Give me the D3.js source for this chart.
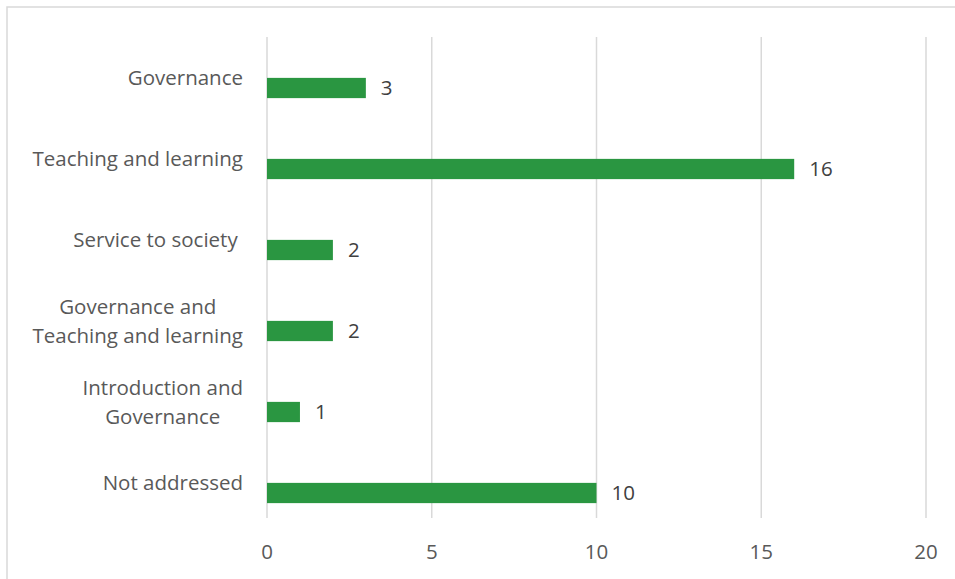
<!DOCTYPE html>
<meta charset="utf-8">
<script src="https://d3js.org/d3.v7.min.js"></script>
<style>
  body { margin: 0; background: #fff; }
  text { font-family: "Open Sans", sans-serif; fill: #595959; }
</style>
<div id="my_dataviz"></div>
<script>

// data
var categories = [
  ["Governance"],
  ["Teaching and learning"],
  ["Service to society "],
  ["Governance and", "Teaching and learning"],
  ["Introduction and", "Governance"],
  ["Not addressed"]
];
var values = [3, 16, 2, 2, 1, 10];
var tickValues = [0, 5, 10, 15, 20];

var width = 955, height = 579;
var fontSize = "20.5px";

var svg = d3.select("#my_dataviz")
  .append("svg")
    .attr("width", width)
    .attr("height", height);

// chart border
svg.append("rect")
  .attr("x", 7).attr("y", 7)
  .attr("width", 960).attr("height", 590)
  .attr("fill", "none")
  .attr("stroke", "#d9d9d9")
  .attr("stroke-width", 1.5);

var x = d3.scaleLinear()
  .domain([0, 20])
  .range([267, 926]);

var y = d3.scaleBand()
  .domain(d3.range(categories.length))
  .range([47.5, 533.5])
  .paddingInner(0.75)
  .paddingOuter(0.375);

// vertical gridlines
svg.append("g")
  .selectAll("line")
  .data(tickValues)
  .join("line")
    .attr("x1", function(d) { return x(d); })
    .attr("x2", function(d) { return x(d); })
    .attr("y1", 37)
    .attr("y2", 518)
    .attr("stroke", "#d9d9d9")
    .attr("stroke-width", 1.5);

// x tick labels
svg.append("g")
  .selectAll("text")
  .data(tickValues)
  .join("text")
    .attr("x", function(d) { return x(d); })
    .attr("y", 552)
    .attr("dy", "0.35em")
    .attr("text-anchor", "middle")
    .style("font-size", fontSize)
    .text(function(d) { return d; });

// bars
svg.append("g")
  .selectAll("rect")
  .data(values)
  .join("rect")
    .attr("x", x(0))
    .attr("y", function(d, i) { return y(i); })
    .attr("width", function(d) { return x(d) - x(0); })
    .attr("height", y.bandwidth())
    .attr("fill", "#2a9641");

// value labels
svg.append("g")
  .selectAll("text")
  .data(values)
  .join("text")
    .attr("x", function(d) { return x(d) + 15; })
    .attr("y", function(d, i) { return y(i) + y.bandwidth() / 2; })
    .attr("dy", "0.35em")
    .style("font-size", fontSize)
    .style("fill", "#404040")
    .text(function(d) { return d; });

// category labels, each block right-aligned at 243, lines centred within the block
var lineH = 29;
var labels = svg.append("g")
  .selectAll("g")
  .data(categories)
  .join("g");

labels.each(function(lines, i) {
  var g = d3.select(this);
  var cy = y(i) + y.bandwidth() / 2 - 10;
  var top = cy - (lines.length - 1) * lineH / 2;
  var texts = g.selectAll("text")
    .data(lines)
    .join("text")
      .attr("y", function(d, j) { return top + j * lineH; })
      .attr("dy", "0.35em")
      .attr("text-anchor", "middle")
      .attr("xml:space", "preserve")
      .style("white-space", "pre")
      .style("font-size", fontSize)
      .text(function(d) { return d; });
  var maxW = d3.max(texts.nodes(), function(n) { return n.getComputedTextLength(); });
  texts.attr("x", 243 - maxW / 2);
});

</script>
